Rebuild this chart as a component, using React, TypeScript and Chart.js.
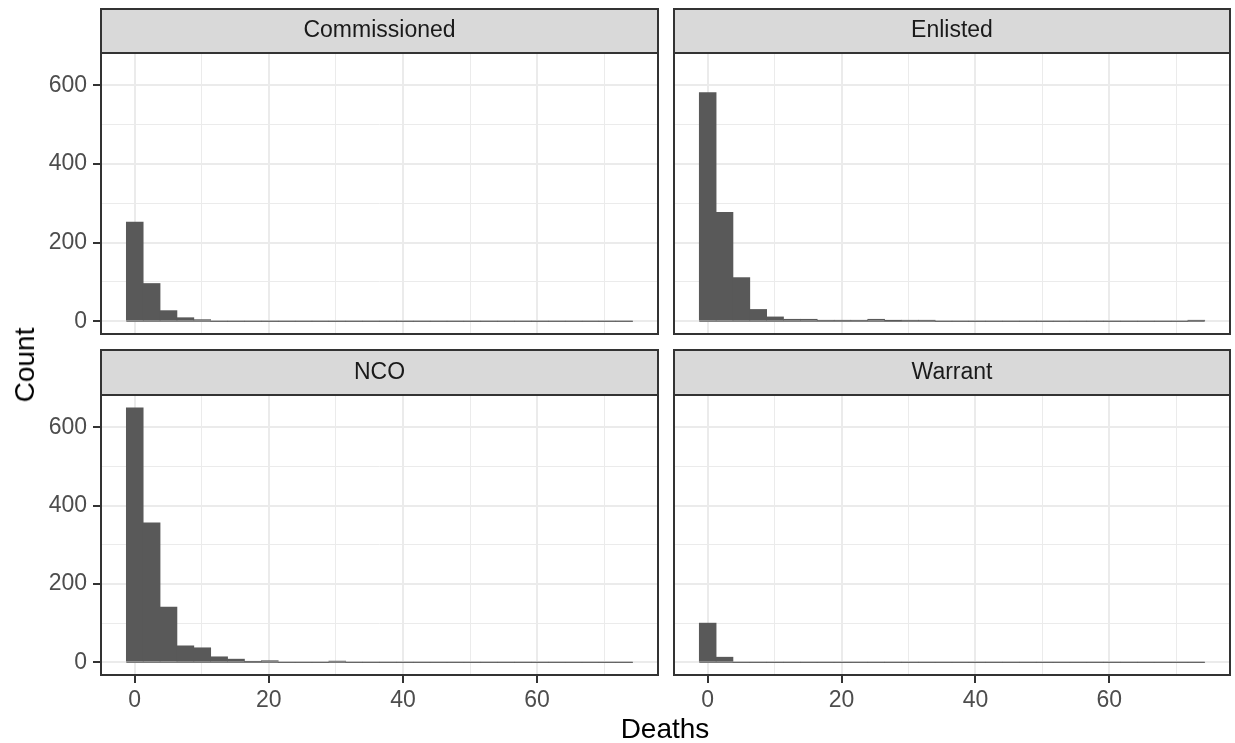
import React, { useEffect, useRef } from "react";
import { Chart, registerables } from "chart.js";

Chart.register(...registerables);

// ---- data ----
const PANEL_NAMES = ["Commissioned", "Enlisted", "NCO", "Warrant"];
const BIN_COUNT = 30;
const DEATHS_MAX = 73;
const commissionedCounts = [252, 96, 27, 9, 4, 0, 0, 0, 0, 0, 0, 0, 0, 0, 0, 0, 0, 0, 0, 0, 0, 0, 0, 0, 0, 0, 0, 0, 0, 0];
const enlistedCounts = [582, 277, 111, 30, 11, 5, 5, 2, 2, 2, 5, 1, 2, 2, 0, 0, 0, 0, 0, 0, 0, 0, 0, 0, 0, 0, 0, 0, 0, 2];
const ncoCounts = [650, 356, 141, 42, 37, 14, 8, 2, 4, 0, 0, 0, 3, 0, 0, 0, 0, 0, 0, 0, 0, 0, 0, 0, 0, 0, 0, 0, 0, 0];
const warrantCounts = [100, 13, 0, 0, 0, 0, 0, 0, 0, 0, 0, 0, 0, 0, 0, 0, 0, 0, 0, 0, 0, 0, 0, 0, 0, 0, 0, 0, 0, 0];
const PANEL_COUNTS = [commissionedCounts, enlistedCounts, ncoCounts, warrantCounts];
const X_TICKS = [0, 10, 20, 30, 40, 50, 60, 70];
const X_MAJOR = [0, 20, 40, 60];
const Y_TICKS = [0, 100, 200, 300, 400, 500, 600];
const Y_MAJOR = [0, 200, 400, 600];
const X_TITLE = "Deaths";
const Y_TITLE = "Count";

// ---- derived scale ranges (ggplot-style 5% expansion) ----
const BIN_WIDTH = DEATHS_MAX / (BIN_COUNT - 1);
const binCenters = Array.from({ length: BIN_COUNT }, (_, i) => i * BIN_WIDTH);
const xLo = -BIN_WIDTH / 2;
const xHi = DEATHS_MAX + BIN_WIDTH / 2;
const xPad = (xHi - xLo) * 0.05;
const maxCount = Math.max(...PANEL_COUNTS.flat());
const yPad = maxCount * 0.05;

const FONT = '"Liberation Sans", Arial, Helvetica, sans-serif';
const TICK_SIZE = 23;
const STRIP_SIZE = 23;
const TITLE_SIZE = 28;

type Geo = {
  left: number; top: number; width: number; height: number;
  axisW: number; axisH: number; padTop: number; padRight: number; stripH: number;
  showX: boolean; showY: boolean;
};

const COLS = [
  { left: 0, width: 662, axisW: 101, padRight: 4, showY: true },
  { left: 664, width: 571, axisW: 10, padRight: 5, showY: false },
];
const ROWS = [
  { top: 0, height: 354, axisH: 20, padTop: 9, stripH: 44, showX: false },
  { top: 345, height: 398, axisH: 68, padTop: 5, stripH: 45, showX: true },
];

function Panel({ idx }: { idx: number }) {
  const ref = useRef<HTMLCanvasElement | null>(null);
  const col = COLS[idx % 2];
  const row = ROWS[Math.floor(idx / 2)];
  const g: Geo = {
    left: col.left, width: col.width, axisW: col.axisW, padRight: col.padRight, showY: col.showY,
    top: row.top, height: row.height, axisH: row.axisH, padTop: row.padTop, stripH: row.stripH, showX: row.showX,
  };

  useEffect(() => {
    if (!ref.current) return;
    const counts = PANEL_COUNTS[idx];
    const titlePad = (g.stripH - STRIP_SIZE * 1.2) / 2;
    const framePlugin = {
      id: "panelFrame" + idx,
      beforeDraw(chart: any) {
        const { ctx, chartArea: a } = chart;
        ctx.save();
        ctx.fillStyle = "#D9D9D9";
        ctx.fillRect(a.left, a.top - g.stripH, a.right - a.left, g.stripH);
        ctx.strokeStyle = "#333333";
        ctx.lineWidth = 2;
        ctx.strokeRect(a.left, a.top - g.stripH, a.right - a.left, g.stripH);
        ctx.restore();
      },
      afterDraw(chart: any) {
        const { ctx, chartArea: a } = chart;
        ctx.save();
        ctx.strokeStyle = "#333333";
        ctx.lineWidth = 2;
        ctx.strokeRect(a.left, a.top, a.right - a.left, a.bottom - a.top);
        ctx.restore();
      },
    };
    const chart = new Chart(ref.current, {
      type: "bar",
      data: {
        datasets: [
          {
            type: "bar",
            data: binCenters.map((x, i) => ({ x, y: counts[i] })),
            backgroundColor: "#595959",
            borderWidth: 0,
            barPercentage: 1,
            categoryPercentage: 1,
          } as any,
          {
            type: "line",
            data: [{ x: xLo, y: 0 }, { x: xHi, y: 0 }],
            borderColor: "#595959",
            borderWidth: 1,
            pointRadius: 0,
          } as any,
        ],
      },
      options: {
        animation: false,
        responsive: true,
        maintainAspectRatio: false,
        events: [],
        layout: { padding: { top: g.padTop, right: g.padRight, bottom: 0, left: 0 } },
        plugins: {
          legend: { display: false },
          tooltip: { enabled: false },
          title: {
            display: true,
            text: PANEL_NAMES[idx],
            color: "#1A1A1A",
            fullSize: false,
            font: { family: FONT, size: STRIP_SIZE, weight: "normal", lineHeight: 1.2 },
            padding: { top: titlePad, bottom: titlePad },
          } as any,
        },
        scales: {
          x: {
            type: "linear",
            min: xLo - xPad,
            max: xHi + xPad,
            offset: false,
            afterBuildTicks: (s: any) => { s.ticks = X_TICKS.map((v) => ({ value: v })); },
            afterFit: (s: any) => { s.height = g.axisH; },
            border: { display: false },
            grid: {
              offset: false,
              color: "#EBEBEB",
              lineWidth: (c: any) => (c.tick && X_MAJOR.includes(c.tick.value) ? 2 : 1),
              drawTicks: g.showX,
              tickLength: 8,
              tickWidth: 2,
              tickColor: (c: any) => (c.tick && X_MAJOR.includes(c.tick.value) ? "#333333" : "rgba(0,0,0,0)"),
            },
            ticks: {
              display: g.showX,
              autoSkip: false,
              maxRotation: 0,
              padding: 4,
              color: "#4D4D4D",
              font: { family: FONT, size: TICK_SIZE },
              callback: (v: any) => (X_MAJOR.includes(Number(v)) ? String(v) : ""),
            },
          } as any,
          y: {
            type: "linear",
            min: -yPad,
            max: maxCount + yPad,
            afterBuildTicks: (s: any) => { s.ticks = Y_TICKS.map((v) => ({ value: v })); },
            afterFit: (s: any) => { s.width = g.axisW; },
            border: { display: false },
            grid: {
              color: "#EBEBEB",
              lineWidth: (c: any) => (c.tick && Y_MAJOR.includes(c.tick.value) ? 2 : 1),
              drawTicks: g.showY,
              tickLength: 8,
              tickWidth: 2,
              tickColor: (c: any) => (c.tick && Y_MAJOR.includes(c.tick.value) ? "#333333" : "rgba(0,0,0,0)"),
            },
            ticks: {
              display: g.showY,
              autoSkip: false,
              padding: 6,
              color: "#4D4D4D",
              font: { family: FONT, size: TICK_SIZE },
              callback: (v: any) => (Y_MAJOR.includes(Number(v)) ? String(v) : ""),
            },
          } as any,
        },
      },
      plugins: [framePlugin as any],
    });
    return () => chart.destroy();
  }, [idx]);

  return (
    <div style={{ position: "absolute", left: g.left, top: g.top, width: g.width, height: g.height }}>
      <canvas ref={ref} />
    </div>
  );
}

export default function App() {
  return (
    <div style={{ position: "absolute", left: 0, top: 0, width: 1235, height: 743, background: "#FFFFFF", overflow: "hidden" }}>
      {PANEL_NAMES.map((_, i) => (
        <Panel key={i} idx={i} />
      ))}
      <div
        style={{
          position: "absolute", left: 665, top: 729, transform: "translate(-50%, -50%)",
          fontFamily: FONT, fontSize: TITLE_SIZE, lineHeight: 1, color: "#000000", whiteSpace: "nowrap",
        }}
      >
        {X_TITLE}
      </div>
      <div
        style={{
          position: "absolute", left: 25, top: 365, transform: "translate(-50%, -50%) rotate(-90deg)",
          fontFamily: FONT, fontSize: TITLE_SIZE, lineHeight: 1, color: "#000000", whiteSpace: "nowrap",
        }}
      >
        {Y_TITLE}
      </div>
    </div>
  );
}
